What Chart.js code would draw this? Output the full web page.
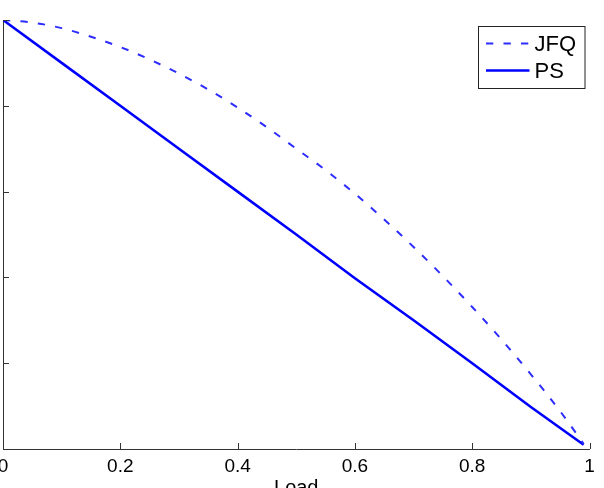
<!DOCTYPE html>
<html><head><meta charset="utf-8">
<script src="https://cdn.jsdelivr.net/npm/chart.js@4/dist/chart.umd.min.js"></script>
<style>
html,body{margin:0;padding:0;overflow:hidden;background:#fff;width:604px;height:488px;position:relative}
#wrap{position:absolute;left:-47px;top:0;width:651px;height:520px}
</style></head>
<body><div id="wrap"><canvas id="c" width="651" height="520"></canvas></div>
<script>
// ---- data ----
const jfqLoad   = [0, 0.05, 0.1, 0.15, 0.2, 0.25, 0.3, 0.35, 0.4, 0.45, 0.5, 0.55, 0.6, 0.65, 0.7, 0.75, 0.8, 0.85, 0.9, 0.95, 0.99];
const jfqValues = [1.0, 0.994, 0.981, 0.961, 0.937, 0.908, 0.875, 0.838, 0.796, 0.75, 0.70, 0.65, 0.595, 0.535, 0.471, 0.403, 0.331, 0.255, 0.174, 0.088, 0.012];
const psLoad    = [0, 0.1, 0.2, 0.3, 0.4, 0.5, 0.6, 0.7, 0.8, 0.9, 0.99];
const psValues  = [1.0, 0.9, 0.8, 0.7, 0.6, 0.5, 0.398, 0.3, 0.2, 0.098, 0.01];
const xTicks = [0, 0.2, 0.4, 0.6, 0.8, 1];
const yTicks = [0, 0.2, 0.4, 0.6, 0.8, 1];
const seriesNames = ['JFQ', 'PS'];
const xTitle = 'Load';

const FONT = "'Liberation Sans', Arial, Helvetica, sans-serif";
const SHIFT = 47; // canvas is shifted left so the y labels fall outside the page
const DASH = [7.3, 10.2];
const JFQ_COLOR = 'rgb(45,45,255)';
const PS_COLOR = '#0000ff';

const toPts = (xs, ys) => xs.map((x, i) => ({x: x, y: ys[i]}));

const innerTicks = {
  id: 'innerTicks',
  afterDraw(chart) {
    const ctx = chart.ctx, a = chart.chartArea;
    const xs = chart.scales.x, ys = chart.scales.y;
    ctx.save();
    ctx.strokeStyle = '#333';
    ctx.lineWidth = 1;
    ctx.beginPath();
    xTicks.forEach(v => {
      const p = Math.round(xs.getPixelForValue(v)) + 0.5;
      ctx.moveTo(p, a.bottom); ctx.lineTo(p, a.bottom - 6);
    });
    yTicks.forEach(v => {
      const p = Math.round(ys.getPixelForValue(v)) + 0.5;
      ctx.moveTo(a.left, p); ctx.lineTo(a.left + 6, p);
    });
    ctx.stroke();

    // legend
    const bx = 478.5 + SHIFT, by = 26.5, bw = 106.5, bh = 62;
    ctx.fillStyle = '#fff';
    ctx.fillRect(bx, by, bw, bh);
    ctx.strokeStyle = '#222';
    ctx.lineWidth = 1;
    ctx.strokeRect(bx, by, bw, bh);
    const rows = [43.5, 70.5];
    const ds = chart.data.datasets;
    rows.forEach((ry, i) => {
      ctx.beginPath();
      ctx.strokeStyle = ds[i].borderColor;
      ctx.lineWidth = ds[i].borderWidth;
      ctx.setLineDash(ds[i].borderDash || []);
      ctx.moveTo(486 + SHIFT, ry); ctx.lineTo(529.5 + SHIFT, ry);
      ctx.stroke();
      ctx.setLineDash([]);
      ctx.fillStyle = '#000';
      ctx.font = '22px ' + FONT;
      ctx.textBaseline = 'middle';
      ctx.textAlign = 'left';
      ctx.fillText(ds[i].label, 534.5 + SHIFT, ry + 1.5);
    });
    ctx.restore();
  }
};

new Chart(document.getElementById('c'), {
  type: 'line',
  data: {
    datasets: [
      {label: seriesNames[0], data: toPts(jfqLoad, jfqValues), borderColor: JFQ_COLOR, borderWidth: 2,
       borderDash: DASH, pointRadius: 0, fill: false, cubicInterpolationMode: 'monotone'},
      {label: seriesNames[1], data: toPts(psLoad, psValues), borderColor: PS_COLOR, borderWidth: 2.6,
       pointRadius: 0, fill: false, tension: 0}
    ]
  },
  options: {
    responsive: false,
    animation: false,
    devicePixelRatio: 1,
    layout: {padding: {left: 0, right: 14.5, top: 20, bottom: 0}},
    plugins: {legend: {display: false}, tooltip: {enabled: false}},
    scales: {
      x: {
        type: 'linear', min: 0, max: 1,
        afterBuildTicks: s => { s.ticks = xTicks.map(v => ({value: v})); },
        afterFit: s => { s.height = 71; },
        ticks: {color: '#000', padding: 6, font: {family: FONT, size: 19}, maxRotation: 0,
                callback: v => String(v)},
        grid: {drawOnChartArea: false, drawTicks: false},
        border: {display: true, color: '#333', width: 1},
        title: {display: true, text: xTitle, color: '#000', font: {family: FONT, size: 20},
                padding: {top: 0, bottom: 20}}
      },
      y: {
        type: 'linear', min: 0, max: 1,
        afterBuildTicks: s => { s.ticks = yTicks.map(v => ({value: v})); },
        afterFit: s => { s.width = 50; },
        ticks: {color: '#000', padding: 6, font: {family: FONT, size: 19}, callback: v => String(v)},
        grid: {drawOnChartArea: false, drawTicks: false},
        border: {display: true, color: '#333', width: 1}
      }
    }
  },
  plugins: [innerTicks]
});
</script>
</body></html>
